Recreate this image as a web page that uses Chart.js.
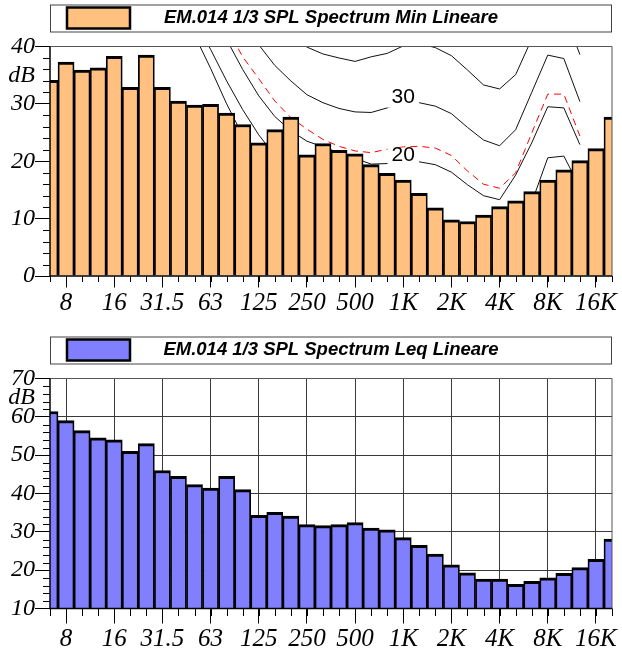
<!DOCTYPE html>
<html>
<head>
<meta charset="utf-8">
<title>EM.014 1/3 SPL Spectrum</title>
<script src="https://cdn.jsdelivr.net/npm/chart.js@4.4.1/dist/chart.umd.min.js"></script>
<style>
  html, body { margin: 0; padding: 0; background: #fff; }
  .chart-box { position: relative; width: 622px; }
  #minBox { height: 326px; }
  #leqBox { height: 327px; }
</style>
</head>
<body>
<div class="chart-box" id="minBox"><canvas id="minChart"></canvas></div>
<div class="chart-box" id="leqBox"><canvas id="leqChart"></canvas></div>
<script>
// ── 1/3 octave bands (Hz) ─────────────────────────
const BANDS = ['6.3', '8', '10', '12.5', '16', '20', '25', '31.5', '40', '50',
  '63', '80', '100', '125', '160', '200', '250', '315', '400', '500',
  '630', '800', '1K', '1.25K', '1.6K', '2K', '2.5K', '3.15K', '4K', '5K',
  '6.3K', '8K', '10K', '12.5K', '16K', '20K'];

// bands that get a label on the x axis
const TICK_LABELS = ['8', '16', '31.5', '63', '125', '250', '500', '1K', '2K', '4K', '8K', '16K'];

// ── measured spectra (dB) ─────────────────────────
const MIN_SPL = [34.1, 37.3, 35.9, 36.3, 38.3, 32.9, 38.5, 32.9, 30.5, 29.8,
  29.9, 28.4, 26.4, 23.2, 25.5, 27.7, 21.1, 23.1, 21.9, 21.3,
  19.4, 17.9, 16.7, 14.4, 11.9, 9.8, 9.5, 10.6, 12.1, 13.1,
  14.7, 16.7, 18.5, 20.1, 22.2, 27.7];

const LEQ_SPL = [61.4, 59.0, 56.4, 54.5, 54.0, 51.0, 53.0, 46.0, 44.5, 42.3,
  41.4, 44.5, 41.0, 34.3, 35.1, 34.1, 31.9, 31.6, 31.9, 32.4,
  31.0, 30.5, 28.5, 26.5, 24.2, 21.4, 19.3, 17.7, 17.7, 16.3,
  17.1, 18.0, 19.2, 20.7, 22.8, 28.1];

// ── reference contours on the Min chart (dB, null = not drawn) ──
const CURVE_0 = [null, null, null, null, null, null, null, null, null,
  42, 36.2, 30.0, 24.5, 20, 16.5, 13.5, 11.5, 9.5, 8, 6.5,
  5.2, 4.3, 3.8, 3.5, 2.5, 1.5, 1, 1, 1, 2,
  4, 12, 14, 9.5, null, null];

const CURVE_10 = [null, null, null, null, null, null, null, null, null,
  44.5, 39.5, 34.0, 29.0, 24.6, 21.0, 18.5, 16.5, 15.0, 13.8, 12.8,
  12.0, 11.3, 10.0, 9.6, 8.8, 7.5, 5.8, 4.3, 3.8, 6.5,
  12.8, 20.6, 20.9, 15.5, null, null];

const CURVE_20 = [null, null, null, null, null, null, null, null, null, null,
  47, 41.2, 36.0, 31.4, 27.8, 25.3, 23.5, 22.5, 21.5, 20.5,
  19.5, 19.6, 19.9, 19.9, 19.4, 18.1, 15.9, 14.0, 13.3, 17.6,
  23.2, 29.5, 29.3, 22.9, null, null];

const CURVE_LIMIT = [null, null, null, null, null, null, null, null, null, null,
  null, 43.3, 38.2, 34.4, 30.5, 27.6, 25.6, 23.8, 22.6, 21.8,
  21.5, 22.1, 22.5, 22.6, 22.3, 21.0, 18.3, 16.0, 15.3, 18.0,
  24.9, 31.7, 31.7, 24.4, null, null];

const CURVE_30 = [null, null, null, null, null, null, null, null, null, null,
  null, null, 44, 40.3, 36.7, 34.0, 31.6, 30.2, 29.2, 28.6,
  28.5, 29.3, 30.1, 30.2, 29.6, 28.3, 25.9, 23.7, 22.7, 25.5,
  32.0, 38.5, 37.9, 30.4, null, null];

const CURVE_40 = [null, null, null, null, null, null, null, null, null, null,
  null, null, null, null, null, 42.5, 39.9, 38.7, 38.0, 37.4,
  38.2, 38.8, 40.1, 40.5, 39.8, 38.4, 35.9, 33.3, 32.6, 35.1,
  41.3, 47, 46, 38.6, null, null];

const TAG_BAND = '1K';   // where the "30" / "20" tags sit

const SERIF = "'Liberation Serif', 'Times New Roman', serif";
const SANS = "'Liberation Sans', Arial, sans-serif";
const GRID = '#3a3a3a';

function isLabelled(i) {
  return TICK_LABELS.includes(BANDS[i]);
}

// ── small plugins ─────────────────────────────────

/** Framed legend strip above the plot: swatch on the left, title centred. */
const framedLegend = {
  id: 'framedLegend',
  afterDraw(chart, args, opts) {
    const { ctx, chartArea: a } = chart;
    const ds = chart.data.datasets[0];
    ctx.save();
    ctx.strokeStyle = '#444';
    ctx.lineWidth = 1;
    ctx.strokeRect(a.left + 0.5, opts.top + 0.5, a.right - a.left - 1, opts.height);
    ctx.fillStyle = ds.backgroundColor;
    ctx.fillRect(a.left + 17, opts.top + 3, 63, 21);
    ctx.strokeStyle = '#000';
    ctx.lineWidth = 2.5;
    ctx.strokeRect(a.left + 17, opts.top + 3, 63, 21);
    ctx.fillStyle = '#000';
    ctx.font = `italic bold 18.5px ${SANS}`;
    ctx.textAlign = 'center';
    ctx.textBaseline = 'alphabetic';
    ctx.fillText(ds.label, (a.left + a.right) / 2, opts.top + opts.baseline);
    ctx.restore();
  },
};

/** Short ticks on every band and every 2 dB. */
const minorTicks = {
  id: 'minorTicks',
  afterDraw(chart, args, opts) {
    const { ctx, chartArea: a, scales: { x, y } } = chart;
    ctx.save();
    ctx.strokeStyle = '#000';
    ctx.lineWidth = 1;
    ctx.beginPath();
    for (let i = 0; i < BANDS.length; i++) {
      const px = Math.round(x.getPixelForValue(i)) + 0.5;
      ctx.moveTo(px, a.bottom);
      ctx.lineTo(px, a.bottom + opts.xLength);
    }
    for (let v = y.min; v <= y.max; v += 2) {
      if (v % 10 === 0) continue;
      const py = Math.round(y.getPixelForValue(v)) + 0.5;
      ctx.moveTo(a.left - 7, py);
      ctx.lineTo(a.left, py);
    }
    ctx.stroke();
    ctx.restore();
  },
};

/** Plot frame: grey top/right, black axes left/bottom. */
const plotFrame = {
  id: 'plotFrame',
  afterDatasetsDraw(chart) {
    const { ctx, chartArea: a } = chart;
    ctx.save();
    ctx.strokeStyle = '#555';
    ctx.lineWidth = 1;
    ctx.beginPath();
    ctx.moveTo(a.left, a.top);
    ctx.lineTo(a.right, a.top);
    ctx.lineTo(a.right, a.bottom);
    ctx.stroke();
    ctx.strokeStyle = '#000';
    ctx.lineWidth = 1.5;
    ctx.beginPath();
    ctx.moveTo(a.left, a.top);
    ctx.lineTo(a.left, a.bottom);
    ctx.lineTo(a.right, a.bottom);
    ctx.stroke();
    ctx.restore();
  },
};

/** Value tags ("30", "20") written on their contour at TAG_BAND. */
const curveTags = {
  id: 'curveTags',
  afterDatasetsDraw(chart) {
    const { ctx } = chart;
    const idx = BANDS.indexOf(TAG_BAND);
    chart.data.datasets.forEach((ds, di) => {
      if (!ds.tag) return;
      const pt = chart.getDatasetMeta(di).data[idx];
      if (!pt) return;
      ctx.save();
      ctx.font = `21px ${SANS}`;
      const w = ctx.measureText(ds.tag).width;
      const cy = pt.y - 6.5;
      ctx.fillStyle = '#fff';
      ctx.fillRect(pt.x - w / 2 - 4, cy - 7.5, w + 8, 18.5);
      ctx.fillStyle = '#000';
      ctx.textAlign = 'center';
      ctx.textBaseline = 'middle';
      ctx.fillText(ds.tag, pt.x, cy);
      ctx.restore();
    });
  },
};

// ── builders ──────────────────────────────────────

function contour(data, color, dash, tag) {
  return {
    type: 'line',
    label: tag || '',
    data,
    tag,
    borderColor: color,
    borderWidth: 1,
    borderDash: dash || [],
    pointRadius: 0,
    tension: 0,
    fill: false,
    spanGaps: false,
    clip: 0,
    order: 1,
  };
}

function spectrumBars(label, data, color) {
  return {
    type: 'bar',
    label,
    data,
    backgroundColor: color,
    borderColor: '#000',
    borderWidth: { top: 3, left: 1.75, right: 1.75, bottom: 0 },
    borderSkipped: 'start',
    barPercentage: 1,
    categoryPercentage: 1,
    clip: 0,
    order: 0,
  };
}

function buildScales(yMin, yMax, o) {
  return {
    x: {
      type: 'category',
      offset: false,
      grid: {
        offset: false,
        drawOnChartArea: o.grid,
        color: ctx => isLabelled(ctx.index) ? GRID : 'rgba(0,0,0,0)',
        tickColor: ctx => isLabelled(ctx.index) ? '#000' : 'rgba(0,0,0,0)',
        tickLength: o.xTick,
      },
      border: { display: false },
      ticks: {
        autoSkip: false,
        maxRotation: 0,
        minRotation: 0,
        padding: o.xPad,
        color: '#000',
        font: { family: SERIF, size: 25, style: 'italic' },
        callback: (v, i) => isLabelled(i) ? BANDS[i] : '',
      },
      afterFit: s => { s.height = o.xHeight; },
    },
    y: {
      min: yMin,
      max: yMax,
      grid: {
        drawOnChartArea: o.grid,
        color: ctx => ctx.tick.value % 10 === 0 ? GRID : 'rgba(0,0,0,0)',
        tickColor: ctx => ctx.tick.value % 10 === 0 ? '#000' : 'rgba(0,0,0,0)',
        tickLength: 15,
      },
      border: { display: false },
      ticks: {
        stepSize: 1,
        maxTicksLimit: 200,
        autoSkip: false,
        padding: 0,
        color: '#000',
        font: { family: SERIF, size: 24, style: 'italic' },
        callback: v => v % 10 === 0 ? String(v) : (v === yMax - 5 ? 'dB' : ''),
      },
      afterFit: s => { s.width = 50; },
    },
  };
}

function baseOptions(o) {
  return {
    responsive: true,
    maintainAspectRatio: false,
    animation: false,
    events: [],
    layout: { padding: { top: o.top, right: 10, left: 0, bottom: 0 } },
    plugins: {
      legend: { display: false },
      tooltip: { enabled: false },
      framedLegend: o.legend,
      minorTicks: { xLength: o.minorX },
    },
  };
}

// ── Min spectrum with contours ────────────────────
new Chart(document.getElementById('minChart'), {
  type: 'bar',
  data: {
    labels: BANDS,
    datasets: [
      spectrumBars('EM.014 1/3 SPL Spectrum Min Lineare', MIN_SPL, '#ffc080'),
      contour(CURVE_0, '#111'),
      contour(CURVE_10, '#111'),
      contour(CURVE_20, '#111', null, '20'),
      contour(CURVE_LIMIT, '#ff0000', [7, 5]),
      contour(CURVE_30, '#111', null, '30'),
      contour(CURVE_40, '#111'),
    ],
  },
  options: {
    ...baseOptions({ top: 46.5, legend: { top: 4.5, height: 27, baseline: 18.5 }, minorX: 6 }),
    scales: buildScales(0, 40, { grid: false, xTick: 11.5, xPad: 1, xHeight: 50 }),
  },
  plugins: [framedLegend, minorTicks, plotFrame, curveTags],
});

// ── Leq spectrum ──────────────────────────────────
new Chart(document.getElementById('leqChart'), {
  type: 'bar',
  data: {
    labels: BANDS,
    datasets: [
      spectrumBars('EM.014 1/3 SPL Spectrum Leq Lineare', LEQ_SPL, '#8080ff'),
    ],
  },
  options: {
    ...baseOptions({ top: 52.5, legend: { top: 10.5, height: 27, baseline: 18 }, minorX: 7.5 }),
    scales: buildScales(10, 70, { grid: true, xTick: 15, xPad: 1, xHeight: 44.5 }),
  },
  plugins: [framedLegend, minorTicks, plotFrame],
});
</script>
</body>
</html>
